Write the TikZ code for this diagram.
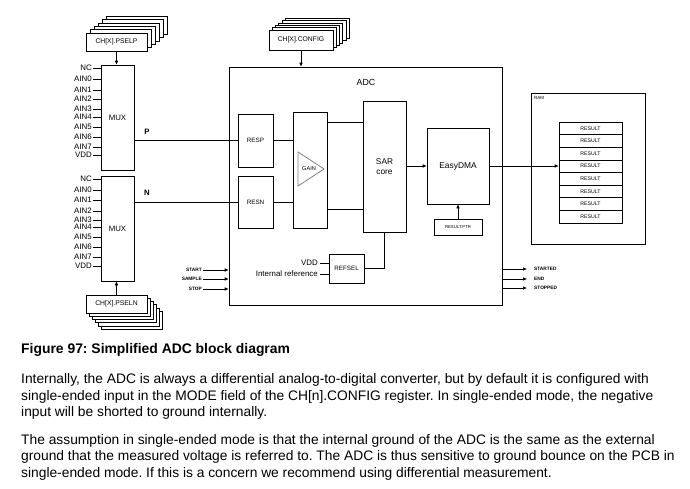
\documentclass[tikz,border=0pt]{standalone}
\usepackage{fontspec}
\setmainfont{Liberation Sans}
\usetikzlibrary{arrows.meta}
\frenchspacing
\begin{document}
\begin{tikzpicture}[x=1pt,y=-1pt,
  bx/.style 2 args={draw, line width=0.6pt, fill=white, minimum width=#1, minimum height=#2, inner sep=0pt},
  stk/.style={draw, line width=0.6pt, fill=white},
  ln/.style={line width=0.6pt},
  arr/.style={line width=0.6pt, -{Latex[length=4pt,width=3.6pt]}},
  fs/.style={font=\fontsize{#1}{#1}\selectfont},
  pin/.style={font=\fontsize{7.9}{7.9}\selectfont, anchor=east, inner sep=0pt},
  sig/.style={font=\fontsize{4.8}{4.8}\selectfont\bfseries, inner sep=0pt},
  body/.style={font=\fontsize{13.8}{13.8}\selectfont, anchor=west, inner sep=0pt}
]
\useasboundingbox (0,0) rectangle (690,488);
\fill[white] (0,0) rectangle (690,488);

% ---------- stacked register boxes ----------
\foreach \i in {5,...,1}
  \draw[stk] ({86+4*\i},{33-3.4*\i}) rectangle ({147+4*\i},{51-3.4*\i});
\node[bx={61}{18}, fs=6.8] (pselp) at (116.5,42) {CH[X].PSELP};

\foreach \i in {5,...,1}
  \draw[stk] ({86+3*\i},{295+3.2*\i}) rectangle ({147+3*\i},{313+3.2*\i});
\node[bx={61}{18}, fs=6.8] (pseln) at (116.5,304) {CH[X].PSELN};

\foreach \i in {5,...,1}
  \draw[stk] ({269+3.2*\i},{30-2.4*\i}) rectangle ({333+3.2*\i},{50-2.4*\i});
\node[bx={64}{20}, fs=6.8] (config) at (301,40) {CH[X].CONFIG};

% ---------- MUXes ----------
\node[bx={33}{105}, fs=7.8] (muxp) at (117.5,117.5) {MUX};
\node[bx={33}{105}, fs=7.8] (muxn) at (117.5,228.5) {MUX};

\foreach \t/\y [count=\k] in {NC/68,AIN0/79,AIN1/90,AIN2/99,AIN3/109,AIN4/117,AIN5/127,AIN6/137,AIN7/147,VDD/155}{
  \coordinate (pp\k) at (93,\y);
  \node[pin] (pl\k) at (92,\y) {\t};
  \draw[ln] (pp\k) -- (pp\k -| muxp.west);
}
\foreach \t/\y [count=\k] in {NC/179,AIN0/190,AIN1/200,AIN2/211,AIN3/220,AIN4/227,AIN5/237,AIN6/247,AIN7/257,VDD/266}{
  \coordinate (np\k) at (93,\y);
  \node[pin] (nl\k) at (92,\y) {\t};
  \draw[ln] (np\k) -- (np\k -| muxn.west);
}

\draw[arr] (pselp.south) -- (pselp.south |- muxp.north);
\draw[arr] (pseln.north) -- (pseln.north |- muxn.south);

% ---------- ADC ----------
\node[bx={273}{238}] (adc) at (365.5,186) {};
\node[fs=8.8, inner sep=0pt] (adclbl) at (366,82) {ADC};
\draw[arr] (config.south) -- (config.south |- adc.north);

\node[bx={35}{53}, fs=6.3] (resp) at (255.5,140.5) {RESP};
\node[bx={35}{52}, fs=6.3] (resn) at (255.5,202) {RESN};
\node[bx={34}{116}] (gain) at (310,170) {};
\draw[line width=0.8pt, draw=gray] (298,152) -- (324,169) -- (298,186) -- cycle;
\node[fs=5.6, inner sep=0pt] (gainlbl) at (309,169) {GAIN};
\node[bx={43}{131}, fs=8.3, align=center] (sar) at (384.5,166.5) {SAR\\[1pt]core};
\node[bx={62}{76}, fs=8.4] (dma) at (458,166) {EasyDMA};
\node[bx={48}{16}, fs=4.3] (rptr) at (458,227) {RESULT.PTR};
\node[bx={35}{29}, fs=6.3] (refsel) at (346.5,268.5) {REFSEL};

\node[fs=7.8, inner sep=0pt] (plbl) at (147,132) {\bfseries P};
\node[fs=7.8, inner sep=0pt] (nlbl) at (147,193) {\bfseries N};
\draw[ln] (resp.west) -- (resp.west -| muxp.east);
\draw[ln] (resn.west) -- (resn.west -| muxn.east);
\draw[ln] (resp.east) -- (resp.east -| gain.west);
\draw[ln] (resn.east) -- (resn.east -| gain.west);
\coordinate (g1) at (327,122);
\coordinate (g2) at (327,209);
\draw[ln] (g1) -- (g1 -| sar.west);
\draw[ln] (g2) -- (g2 -| sar.west);
\draw[arr] (sar.east |- dma.west) -- (dma.west);
\draw[arr] (rptr.north) -- (dma.south);
\draw[ln] (refsel.east) -| (sar.south);

\coordinate (vddc) at (320,263);
\coordinate (irc) at (320,274);
\node[fs=7.9, anchor=east, inner sep=0pt] (vddl) at (318,263) {VDD};
\node[fs=7.9, anchor=east, inner sep=0pt] (irl) at (318,274) {Internal reference};
\draw[ln] (vddc) -- (vddc -| refsel.west);
\draw[ln] (irc) -- (irc -| refsel.west);

% ---------- tasks / events ----------
\foreach \t/\y [count=\k] in {START/270,SAMPLE/279,STOP/289}{
  \coordinate (ti\k) at (203,\y);
  \node[sig, anchor=east] (tl\k) at (202,\y) {\t};
  \draw[arr] (ti\k) -- (ti\k -| adc.west);
}
\foreach \t/\y [count=\k] in {STARTED/269,END/279,STOPPED/288}{
  \coordinate (eo\k) at (527,\y);
  \node[sig, anchor=west] (el\k) at (534,\y) {\t};
  \draw[arr] (eo\k -| adc.east) -- (eo\k);
}

% ---------- RAM ----------
\node[bx={114}{151}] (ram) at (588,168.5) {};
\node[fs=4.5, anchor=north west, inner sep=0pt] (ramlbl) at (534,96) {RAM};
\foreach \k in {1,...,8}
  \node[bx={63}{12.625}, fs=5.2] (res\k) at (590.5,{122+12.625*(\k-0.5)}) {RESULT};
\draw[arr] (dma.east) -- (dma.east -| res4.west);

% ---------- caption and text ----------
\node[body, font=\fontsize{13.9}{13.9}\selectfont\bfseries] (cap) at (21,350) {Figure 97: Simplified ADC block diagram};
\node[body] (t1) at (21,380) {Internally, the ADC is always a differential analog-to-digital converter, but by default it is configured with};
\node[body] (t2) at (21,397) {single-ended input in the MODE field of the CH[n].CONFIG register. In single-ended mode, the negative};
\node[body] (t3) at (21,413) {input will be shorted to ground internally.};
\node[body] (t4) at (21,441) {The assumption in single-ended mode is that the internal ground of the ADC is the same as the external};
\node[body] (t5) at (21,457) {ground that the measured voltage is referred to. The ADC is thus sensitive to ground bounce on the PCB in};
\node[body] (t6) at (21,474) {single-ended mode. If this is a concern we recommend using differential measurement.};
\end{tikzpicture}
\end{document}
